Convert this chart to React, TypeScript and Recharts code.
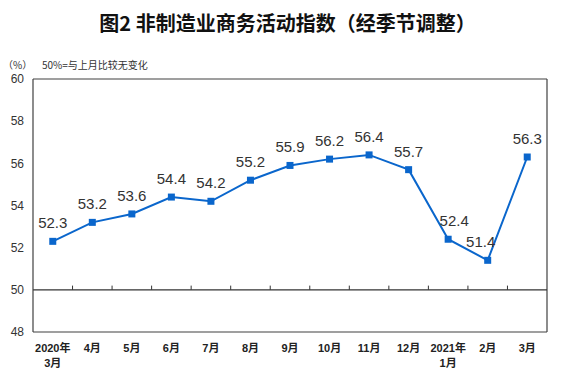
import React from "react";
import {
  LineChart,
  Line,
  XAxis,
  YAxis,
  ReferenceLine,
  LabelList,
} from "recharts";

const months = [
  "2020年\n3月",
  "4月",
  "5月",
  "6月",
  "7月",
  "8月",
  "9月",
  "10月",
  "11月",
  "12月",
  "2021年\n1月",
  "2月",
  "3月",
];
const index = [52.3, 53.2, 53.6, 54.4, 54.2, 55.2, 55.9, 56.2, 56.4, 55.7, 52.4, 51.4, 56.3];
const yTicks = [48, 50, 52, 54, 56, 58, 60];

const data = months.map((m, i) => ({ x: i + 0.5, month: m, value: index[i] }));
const xTicks = data.map((d) => d.x);
const boundaries = months.slice(1).map((_, i) => i + 1);

const BLUE = "#0a66cc";
const FRAME = "#404040";
const FONT = "'Liberation Sans', Arial, 'Noto Sans CJK SC', sans-serif";

// small nudges so labels don't sit on the line near the dip
const labelShift: Record<number, number> = { 10: 6, 11: -7 };

function MonthTick(props: any) {
  const { x, y, payload } = props;
  const lines = String(months[Math.round(payload.value - 0.5)] ?? "").split("\n");
  return (
    <text
      x={x}
      y={y}
      textAnchor="middle"
      fontSize={11}
      fontWeight="bold"
      fill="#222"
      fontFamily={FONT}
    >
      {lines.map((l, i) => (
        <tspan key={i} x={x} dy={i === 0 ? 12 : 15}>
          {l}
        </tspan>
      ))}
    </text>
  );
}

function SquareDot(props: any) {
  const { cx, cy } = props;
  if (cx == null || cy == null) return null;
  return <rect x={cx - 3.5} y={cy - 3.5} width={7} height={7} fill={BLUE} />;
}

function ValueLabel(props: any) {
  const { x, y, value, index: i } = props;
  return (
    <text
      x={x + (labelShift[i] ?? 0)}
      y={y - 13}
      textAnchor="middle"
      fontSize={15}
      fill="#333"
      fontFamily={FONT}
    >
      {Number(value).toFixed(1)}
    </text>
  );
}

export default function App() {
  return (
    <div
      style={{
        position: "absolute",
        left: 0,
        top: 0,
        width: 575,
        height: 377,
        background: "#fff",
        fontFamily: FONT,
      }}
    >
      <div
        style={{
          position: "absolute",
          left: 0,
          top: 9,
          width: 575,
          textAlign: "center",
          fontSize: 20,
          fontWeight: "bold",
          color: "#111",
          fontFamily: "'Noto Sans CJK SC', sans-serif",
          lineHeight: "28px",
        }}
      >
        图2 非制造业商务活动指数（经季节调整）
      </div>
      <div
        style={{
          position: "absolute",
          left: 3,
          top: 57,
          fontSize: 10,
          color: "#333",
          fontFamily: "'Noto Sans CJK SC', sans-serif",
        }}
      >
        （%）
      </div>
      <div
        style={{
          position: "absolute",
          left: 42,
          top: 57,
          fontSize: 10,
          color: "#333",
          fontFamily: "'Noto Sans CJK SC', sans-serif",
        }}
      >
        50%=与上月比较无变化
      </div>
      <LineChart
        width={575}
        height={377}
        data={data}
        margin={{ top: 79, right: 28, bottom: 5, left: 0 }}
        style={{ position: "absolute", left: 0, top: 0 }}
      >
        <XAxis
          dataKey="x"
          type="number"
          domain={[0, 13]}
          ticks={xTicks}
          interval={0}
          tickLine={false}
          axisLine={{ stroke: FRAME, strokeWidth: 1.2 }}
          tick={<MonthTick />}
          height={40}
        />
        <YAxis
          domain={[48, 60]}
          ticks={yTicks}
          interval={0}
          tickLine={false}
          axisLine={{ stroke: FRAME, strokeWidth: 1.2 }}
          tick={{ fontSize: 12, fill: "#333", fontFamily: FONT }}
          tickMargin={3}
          width={33}
        />
        <ReferenceLine y={60} stroke={FRAME} strokeWidth={1.2} />
        <ReferenceLine x={13} stroke={FRAME} strokeWidth={1.2} />
        <ReferenceLine y={50} stroke="#333" strokeWidth={1.2} />
        {boundaries.map((b) => (
          <ReferenceLine
            key={b}
            segment={[
              { x: b, y: 50 },
              { x: b, y: 50.2 },
            ]}
            stroke="#333"
            strokeWidth={1}
          />
        ))}
        <Line
          dataKey="value"
          stroke={BLUE}
          strokeWidth={2}
          dot={<SquareDot />}
          activeDot={false}
          isAnimationActive={false}
        >
          <LabelList dataKey="value" content={<ValueLabel />} />
        </Line>
      </LineChart>
    </div>
  );
}
